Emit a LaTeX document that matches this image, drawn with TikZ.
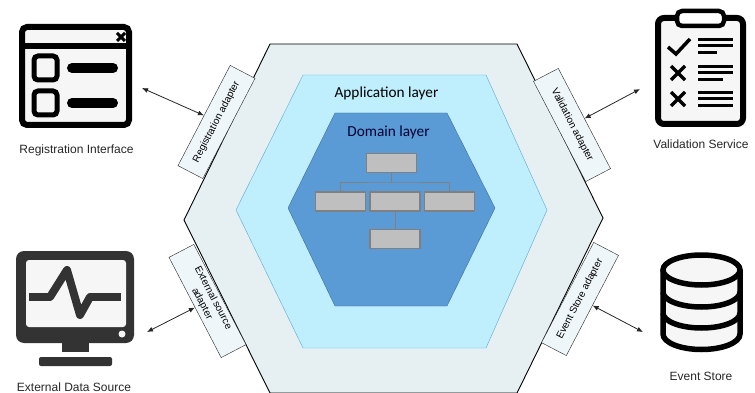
\documentclass[tikz,border=0pt]{standalone}
\usepackage{fontspec}
\setmainfont{Liberation Sans}
\newfontfamily\layerfont{Carlito}
\usetikzlibrary{arrows.meta}
\definecolor{iconink}{HTML}{333333}
\definecolor{iconbg}{HTML}{F6F6F6}
\definecolor{adapterfill}{HTML}{EFF6F9}
\begin{document}
\begin{tikzpicture}[
		x=1pt,
		y=-1pt,
		adapter/.style={
				draw=black!85,
				fill=adapterfill,
				align=center,
				minimum width=113pt,
				minimum height=28pt,
				inner sep=1pt,
				font=\fontsize{10}{12.5}\selectfont
			},
		entity/.style={
				draw=black!50,
				line width=1.5pt,
				fill=black!25,
				minimum width=50pt,
				minimum height=19pt,
				inner sep=0pt
			},
		caption/.style={
				inner sep=0pt,
				text=black!85,
				font=\fontsize{12}{14}\selectfont
			},
		layer/.style={
				inner sep=0pt,
				font=\layerfont\fontsize{15.3}{17}\selectfont
			},
		link/.style={
				black!85,
				line width=0.8pt,
				{Latex[length=6pt,width=5pt]}-{Latex[length=6pt,width=5pt]}
			},
		tree/.style={
				black!50,
				line width=1pt
			}
	]
	\useasboundingbox (0,0) rectangle (755,393);

	% layers
	\draw[black, line width=0.9pt, fill={rgb,255:red,230;green,240;blue,243}]
	(270,44) -- (517,44) -- (603,218) -- (517,393) -- (270,393) -- (184,220) -- cycle;
	\draw[draw={rgb,255:red,90;green,168;blue,214}, fill={rgb,255:red,191;green,238;blue,252}]
	(303,75) -- (486,75) -- (547,210) -- (486,348) -- (303,348) -- (236,210) -- cycle;
	\draw[draw={rgb,255:red,60;green,110;blue,160}, fill={rgb,255:red,91;green,155;blue,213}]
	(335,113) -- (447,113) -- (495,208) -- (447,306) -- (335,306) -- (288,208) -- cycle;
	\node[layer] (applabel) at (386.5,93) {Application layer};
	\node[layer, text=black!80!blue] (domlabel) at (388.5,132) {Domain layer};

	% domain model
	\node[entity] (root) at (391.5,163) {};
	\node[entity] (left) at (340.5,201.5) {};
	\node[entity] (mid) at (395,201.5) {};
	\node[entity] (right) at (449.5,201.5) {};
	\node[entity] (leaf) at (395,239) {};
	\coordinate (bus) at (391.5,182);
	\draw[tree] (root.south) -- (bus);
	\draw[tree] (left.north) |- (bus) -| (right.north);
	\draw[tree] (mid.south) -- (leaf.north);

	% adapters
	\node[adapter, rotate=62.5] (regadapter) at (216.5,122) {Registration adapter};
	\node[adapter, rotate=-62.5] (valadapter) at (572,125) {Validation adapter};
	\node[adapter, rotate=-62.5] (extadapter) at (207.5,301) {External source\\adapter};
	\node[adapter, rotate=62.5] (evtadapter) at (580,299) {Event Store adapter};

	% window icon
	\draw[black, line width=6pt, rounded corners=5pt, fill=iconbg] (22,27) rectangle (129,125);
	\draw[black, line width=6pt] (22,46) -- (129,46);
	\draw[black, line width=3pt] (117,33) -- (125,41) (125,33) -- (117,41);
	\draw[black, line width=5pt, rounded corners=4pt] (34,56) rectangle (57,80);
	\draw[black, line width=5pt, rounded corners=4pt] (34,91) rectangle (57,115);
	\draw[black, line width=10pt, line cap=round] (72,68) -- (113,68);
	\draw[black, line width=10pt, line cap=round] (72,103) -- (113,103);

	% monitor icon
	\fill[iconink, rounded corners=8pt] (16,251) rectangle (134,343);
	\fill[iconbg, rounded corners=3pt] (26,260) rectangle (126,327);
	\fill[iconink] (62,343) rectangle (89,352);
	\fill[iconink, rounded corners=2pt] (39,366) -- (39,357) -- (112,357) -- (112,366) -- cycle;
	\fill[iconbg] (122,334) circle (3.5pt);
	\draw[iconink, line width=8pt, line join=round] (29,297) -- (50,297);
	\draw[iconink, line width=8pt, line join=round, line cap=round] (50,297) -- (67,270) -- (80,315) -- (90,297);
	\draw[iconink, line width=8pt, line join=round] (90,297) -- (121,297);

	% clipboard icon
	\draw[black, line width=6pt, rounded corners=6pt, fill=iconbg] (658,18) rectangle (743,124);
	\draw[black, line width=4.5pt, rounded corners=5pt, fill=white] (677,11) -- (724,11) -- (724,26) -- (677,26) -- cycle;
	\draw[black, line width=3.5pt] (668,47) -- (676,54) -- (690,39);
	\draw[black, line width=3.5pt] (671,66) -- (685,80) (685,66) -- (671,80);
	\draw[black, line width=3.5pt] (671,92) -- (685,106) (685,92) -- (671,106);
	\foreach \ytop/\xend in {40/733,46/733,53/717,67/733,73/733,80/723,93/733,99/733,106/733}
	\draw[black, line width=3pt] (698,\ytop) -- (\xend,\ytop);

	% database icon
	\draw[black, line width=5.5pt, fill=iconbg] (663,270) -- (663,334) arc[start angle=180, end angle=360, x radius=38.5, y radius=-15.5] -- (740,270);
	\draw[black, line width=5.5pt, fill=iconbg] (701.5,270) ellipse[x radius=38.5, y radius=15];
	\draw[black, line width=5.5pt] (663,292) arc[start angle=180, end angle=360, x radius=38.5, y radius=-15];
	\draw[black, line width=5.5pt] (663,313) arc[start angle=180, end angle=360, x radius=38.5, y radius=-15];

	% captions
	\node[caption] (reglabel) at (76.5,150) {Registration Interface};
	\node[caption] (extlabel) at (74,387) {External Data Source};
	\node[caption] (vallabel) at (701,144) {Validation Service};
	\node[caption] (evtlabel) at (701,376) {Event Store};

	% links
	\coordinate (regend) at (142,88);
	\coordinate (valend) at (640,89);
	\coordinate (extend) at (147,332);
	\coordinate (evtend) at (643,332);
	\draw[link] (regend) -- (regadapter.north);
	\draw[link] (valend) -- (valadapter.north);
	\draw[link] (extend) -- (extadapter.south);
	\draw[link] (evtend) -- (evtadapter.south);
\end{tikzpicture}
\end{document}
